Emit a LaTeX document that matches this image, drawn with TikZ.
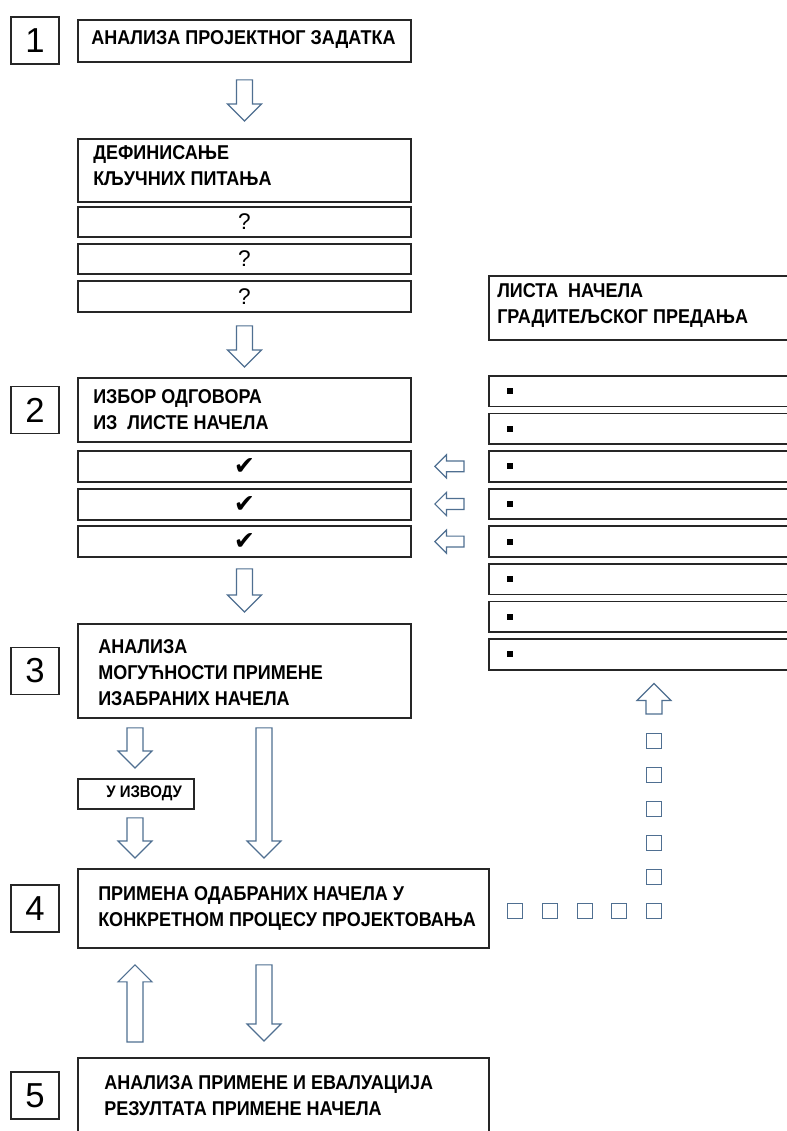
\documentclass[tikz,border=0pt]{standalone}
\usepackage{fontspec}
\setmainfont{Liberation Sans}
\newfontfamily\narrowfont[FakeStretch=0.9]{Liberation Sans}
\newfontfamily\symfont{DejaVu Sans}
\usetikzlibrary{positioning,calc}

\definecolor{arrowblue}{RGB}{79,111,145}

\tikzset{
  box/.style 2 args={draw=black!85, line width=1.4pt, inner sep=0pt, anchor=north west,
    minimum width=#1*0.75pt, minimum height=#2*0.75pt},
  numbox/.style={draw=black!85, line width=1.4pt, inner sep=0pt,
    minimum width=36pt, minimum height=35.25pt, font=\fontsize{26}{26}\selectfont},
  lbl/.style={inner sep=0pt, anchor=west, align=left,
    font=\narrowfont\bfseries\fontsize{15}{19.5}\selectfont},
  hollow/.style={draw=arrowblue, fill=white, line width=0.9pt, line join=miter},
  dotsq/.style={draw=arrowblue, line width=0.9pt, minimum size=11pt, inner sep=0pt},
  bullet/.style={fill=black, minimum size=4.5pt, inner sep=0pt},
  tick/.style={font=\symfont\fontsize{19}{19}\selectfont},
}

% hollow block arrow: [size]{from}{to}{gap at start}{gap at end}
\newcommand{\fatarrow}[5][1]{%
  \coordinate (fa-s) at ($(#2)!#4*0.75pt!(#3)$);
  \coordinate (fa-e) at ($(#3)!#5*0.75pt!(#2)$);
  \coordinate (fa-h) at ($(fa-e)!#1*12.75pt!(fa-s)$);
  \draw[hollow] ($(fa-s)!#1*6pt!90:(fa-e)$) -- ($(fa-h)!#1*6pt!-90:(fa-s)$)
    -- ($(fa-h)!#1*12.75pt!-90:(fa-s)$) -- (fa-e)
    -- ($(fa-h)!#1*12.75pt!90:(fa-s)$) -- ($(fa-h)!#1*6pt!90:(fa-s)$)
    -- ($(fa-s)!#1*6pt!-90:(fa-e)$) -- cycle;}

\begin{document}
\begin{tikzpicture}[yscale=-1, x=0.75pt, y=0.75pt]
  \clip (0,0) rectangle (787,1131);

  % left column
  \node[box={333}{42}] (b1) at (77,19) {};
  \node[box={333}{63}] (kq) at (77,138) {};
  \node[box={333}{30}, font=\fontsize{17}{17}\selectfont] (q1) at (77,206) {?};
  \node[box={333}{30}, font=\fontsize{17}{17}\selectfont] (q2) at (77,243) {?};
  \node[box={333}{31}, font=\fontsize{17}{17}\selectfont] (q3) at (77,280) {?};
  \node[box={333}{64}] (b2) at (77,377) {};
  \node[box={333}{31}, tick] (c1) at (77,450) {✔};
  \node[box={333}{31}, tick] (c2) at (77,488) {✔};
  \node[box={333}{31}, tick] (c3) at (77,525) {✔};
  \node[box={333}{94}] (b3) at (77,623) {};
  \node[box={116}{30}] (izv) at (77,778) {};
  \node[box={411}{79}] (b4) at (77,868) {};
  \node[box={411}{77}] (b5) at (77,1057) {};

  \node[lbl] (t1) at (91,40) {АНАЛИЗА ПРОЈЕКТНОГ ЗАДАТКА};
  \node[lbl] (tkq) at (93,165.5) {ДЕФИНИСАЊЕ\\КЉУЧНИХ ПИТАЊА};
  \node[lbl] (t2) at (93,409.5) {ИЗБОР ОДГОВОРА\\ИЗ\ \ ЛИСТЕ НАЧЕЛА};
  \node[lbl] (t3) at (98,673) {АНАЛИЗА\\МОГУЋНОСТИ ПРИМЕНЕ\\ИЗАБРАНИХ НАЧЕЛА};
  \node[lbl, font=\narrowfont\bfseries\fontsize{12.5}{13}\selectfont] (tizv) at (106,793) {У ИЗВОДУ};
  \node[lbl] (t4) at (98,908) {ПРИМЕНА ОДАБРАНИХ НАЧЕЛА У\\КОНКРЕТНОМ ПРОЦЕСУ ПРОЈЕКТОВАЊА};
  \node[lbl] (t5) at (104,1095.5) {АНАЛИЗА ПРИМЕНЕ И ЕВАЛУАЦИЈА\\РЕЗУЛТАТА ПРИМЕНЕ НАЧЕЛА};

  % step numbers
  \node[numbox, left=12.75pt of b1] (n1) {1};
  \node[numbox, left=12.75pt of b2] (n2) {2};
  \node[numbox, left=12.75pt of b3] (n3) {3};
  \node[numbox, left=12.75pt of b4] (n4) {4};
  \node[numbox, left=12.75pt of t5.west -| b5.west] (n5) {5};

  % list of principles
  \node[box={320}{64}] (lh) at (488,275) {};
  \node[lbl] (tlh) at (497,305.5) {ЛИСТА\ \ НАЧЕЛА\\ГРАДИТЕЉСКОГ ПРЕДАЊА};
  \foreach \i in {1,...,8} {
    \node[box={320}{30.5}] (l\i) at (488,{375+37.6*(\i-1)}) {};
    \node[bullet] (d\i) at ($(l\i.west)+(22,0)$) {};
  }

  % arrows
  \coordinate (colA) at (135,0);
  \coordinate (colB) at (264,0);
  \fatarrow{b1.south}{kq.north}{17}{17}
  \fatarrow{q3.south}{b2.north}{13}{10}
  \fatarrow{c3.south}{b3.north}{11}{11}
  \fatarrow{b3.south -| colA}{izv.north -| colA}{9}{10}
  \fatarrow{izv.south -| colA}{b4.north -| colA}{8}{10}
  \fatarrow{b3.south -| colB}{b4.north -| colB}{9}{10}
  \fatarrow{b4.south -| colB}{b5.north -| colB}{16}{16}
  \fatarrow{b5.north -| colA}{b4.south -| colA}{15}{16}
  \fatarrow[0.68]{l3.west}{c1.east |- l3.west}{24}{23}
  \fatarrow[0.68]{l4.west}{c2.east |- l4.west}{24}{23}
  \fatarrow[0.68]{l5.west}{c3.east |- l5.west}{24}{23}

  % dotted path back to the list
  \foreach \x in {515,550,585,619}
    \node[dotsq] (h\x) at (\x,911) {};
  \foreach \y in {911,877,843,809,775,741}
    \node[dotsq] (v\y) at (654,\y) {};
  \fatarrow{v741.north}{l8.south -| v741}{19}{13}
\end{tikzpicture}
\end{document}
